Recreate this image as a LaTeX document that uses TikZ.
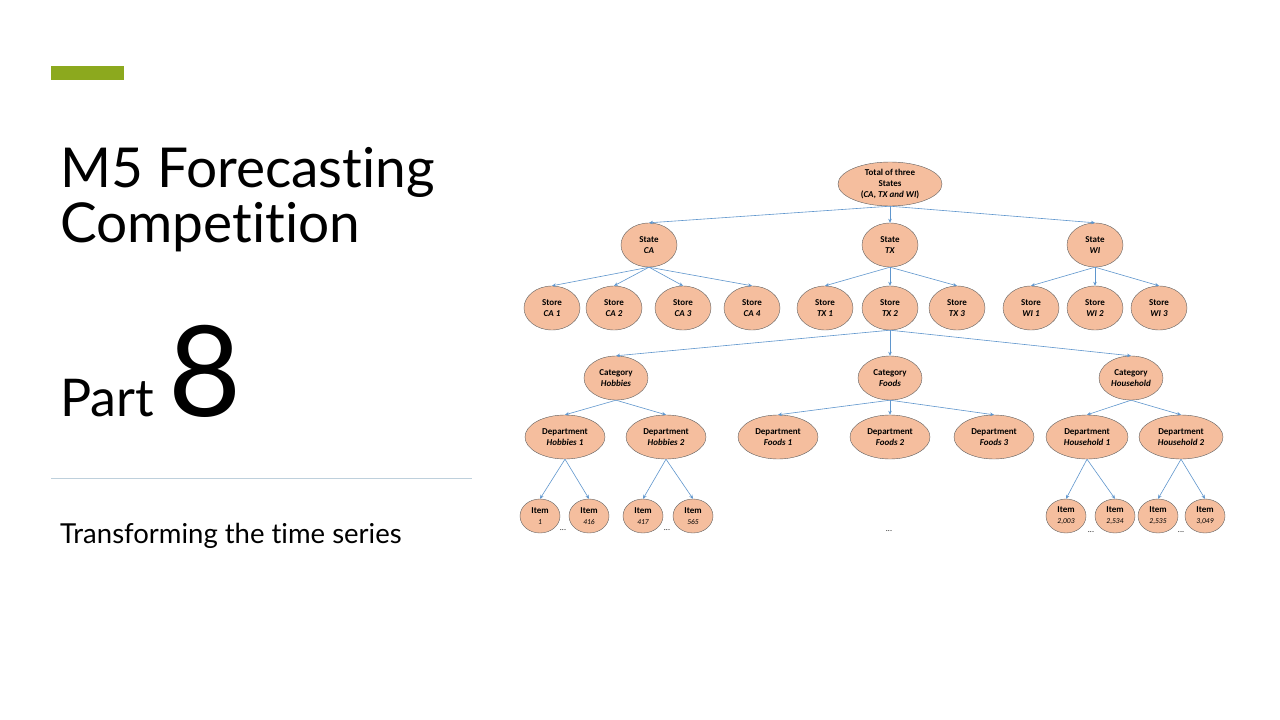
\documentclass[tikz,border=0pt]{standalone}
\usepackage{fontspec}
\setmainfont{Lato}[Ligatures=NoCommon]
\newfontfamily\boxfont{Carlito}
\usetikzlibrary{shapes.geometric,arrows.meta}
\definecolor{barGreen}{RGB}{140,169,30}
\definecolor{nodeFill}{RGB}{245,190,158}
\definecolor{linkBlue}{RGB}{95,150,205}
\definecolor{ruleBlue}{RGB}{190,208,220}
\tikzset{
  hnode/.style={ellipse, draw=gray!75!black, fill=nodeFill, inner sep=0pt,
    minimum width=56pt, minimum height=44pt, align=center,
    font=\boxfont\fontsize{9}{11}\selectfont\bfseries},
  itemnode/.style={hnode, minimum width=40pt, minimum height=34pt},
  link/.style={-{Stealth[length=4pt,width=3.5pt]}, draw=linkBlue, line width=0.6pt},
  dots/.style={font=\boxfont\fontsize{8}{10}\selectfont}
}

\begin{document}
\begin{tikzpicture}[x=1pt,y=-1pt]
\path[use as bounding box, fill=white] (0,0) rectangle (1280,720);
% title block
\fill[barGreen] (51,66) rectangle (124,80);
\node[anchor=base west, inner sep=0pt, font=\fontsize{55}{55}\selectfont] (title1) at (60,187) {M5 Forecasting};
\node[anchor=base west, inner sep=0pt, font=\fontsize{55}{55}\selectfont] (title2) at (60,242) {Competition};
\node[anchor=base west, inner sep=0pt, font=\fontsize{52}{52}\selectfont] (part) at (60,416) {Part};
\node[anchor=base west, inner sep=0pt, font=\fontsize{126}{126}\selectfont] (num) at (168,416) {8};
\draw[ruleBlue, line width=1pt] (51,478) -- (472,478);
\node[anchor=base west, inner sep=0pt, font=\fontsize{27.5}{27.5}\selectfont] (sub) at (60,543) {Transforming the time series};
% top and states
\node[hnode, minimum width=104pt] (total) at (890,184) {Total of three\\States\\(\textit{CA, TX and WI})};
\node[hnode] (ca) at (649,245) {State\\\textit{CA}};
\node[hnode] (tx) at (890,245) {State\\\textit{TX}};
\node[hnode] (wi) at (1095,245) {State\\\textit{WI}};
\foreach \s in {ca,tx,wi} \draw[link] (total.south) -- (\s.north);
% stores
\foreach \n/\x in {1/552,2/614,3/683,4/752} {
  \node[hnode] (ca\n) at (\x,308) {Store\\\textit{CA \n}};
  \draw[link] (ca.south) -- (ca\n.north);
}
\foreach \n/\x in {1/825,2/890,3/957} {
  \node[hnode] (tx\n) at (\x,308) {Store\\\textit{TX \n}};
  \draw[link] (tx.south) -- (tx\n.north);
}
\foreach \n/\x in {1/1031,2/1095,3/1159} {
  \node[hnode] (wi\n) at (\x,308) {Store\\\textit{WI \n}};
  \draw[link] (wi.south) -- (wi\n.north);
}
% categories
\node[hnode, minimum width=64pt] (hob) at (616,378) {Category\\\textit{Hobbies}};
\node[hnode, minimum width=64pt] (foo) at (890,378) {Category\\\textit{Foods}};
\node[hnode, minimum width=64pt] (hou) at (1131,378) {Category\\\textit{Household}};
\foreach \c in {hob,foo,hou} \draw[link] (tx2.south) -- (\c.north);
% departments
\node[hnode, minimum width=80pt] (hob1) at (565,437) {Department\\\textit{Hobbies 1}};
\node[hnode, minimum width=80pt] (hob2) at (666,437) {Department\\\textit{Hobbies 2}};
\node[hnode, minimum width=80pt] (foo1) at (778,437) {Department\\\textit{Foods 1}};
\node[hnode, minimum width=80pt] (foo2) at (890,437) {Department\\\textit{Foods 2}};
\node[hnode, minimum width=80pt] (foo3) at (994,437) {Department\\\textit{Foods 3}};
\node[hnode, minimum width=82pt] (hou1) at (1087,437) {Department\\\textit{Household 1}};
\node[hnode, minimum width=84pt] (hou2) at (1181,437) {Department\\\textit{Household 2}};
\foreach \d in {hob1,hob2} \draw[link] (hob.south) -- (\d.north);
\foreach \d in {foo1,foo2,foo3} \draw[link] (foo.south) -- (\d.north);
\foreach \d in {hou1,hou2} \draw[link] (hou.south) -- (\d.north);
% items
\foreach \i/\x/\p/\lbl in {a/540/hob1/1, b/589/hob1/416, c/643/hob2/417, d/693/hob2/565,
    e/1066/hou1/{2,003}, f/1115/hou1/{2,534}, g/1158/hou2/{2,535}, h/1205/hou2/{3,049}} {
  \node[itemnode] (item\i) at (\x,516) {Item\\{\mdseries\itshape\fontsize{7.5}{9}\selectfont \lbl}};
  \draw[link] (\p.south) -- (item\i.north);
}
\node[dots] (dots1) at (563,530) {...};
\node[dots] (dots2) at (667,530) {...};
\node[dots] (dots3) at (889,531) {...};
\node[dots] (dots4) at (1091,532) {...};
\node[dots] (dots5) at (1181,532) {...};
\end{tikzpicture}
\end{document}
